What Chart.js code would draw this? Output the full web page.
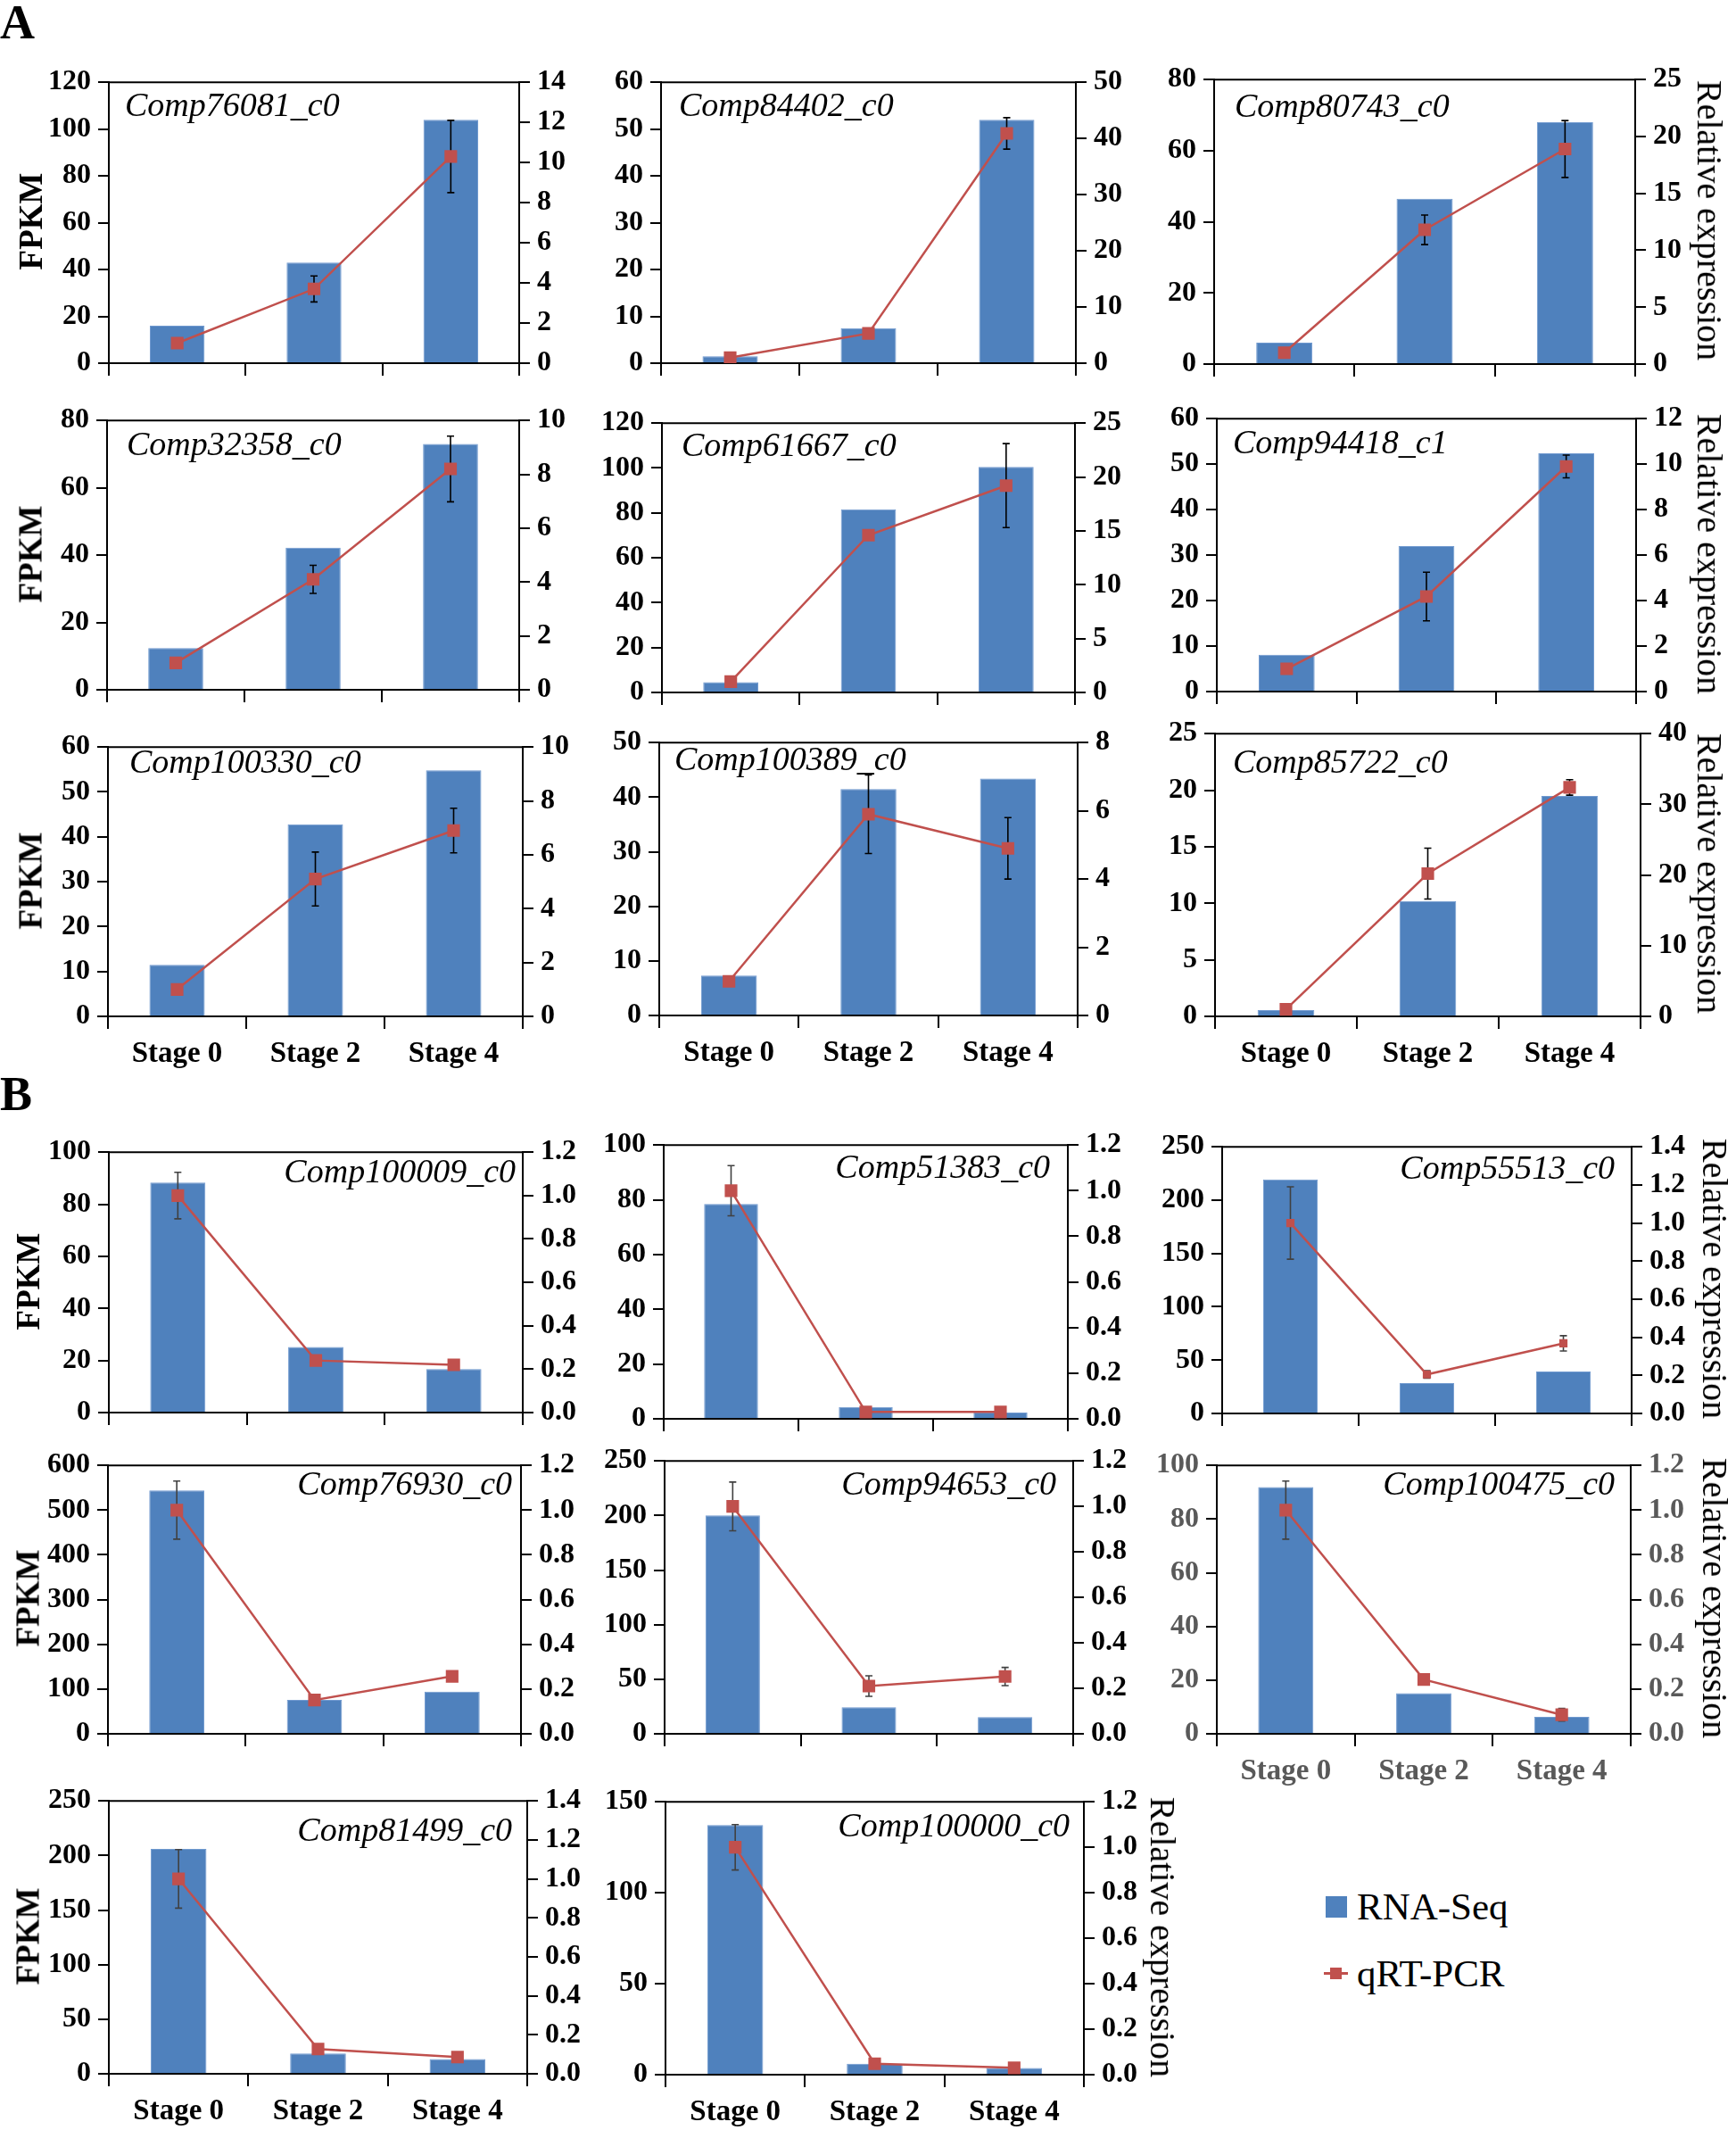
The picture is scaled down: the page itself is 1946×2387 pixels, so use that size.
<!DOCTYPE html>
<html>
<head>
<meta charset="utf-8">
<script src="https://cdn.jsdelivr.net/npm/chart.js@4.4.1/dist/chart.umd.min.js"></script>
<style>
  body { margin: 0; background: #fff; }
  #page { position: relative; width: 1946px; height: 2387px; overflow: hidden; background: #fff;
          font-family: "Liberation Serif", "Times New Roman", serif; }
  canvas { position: absolute; }
  .txt { position: absolute; white-space: nowrap; line-height: 1; color: #000; }
</style>
</head>
<body>
<div id="page"></div>
<script>
// ---- data ----
const stages = ['Stage 0', 'Stage 2', 'Stage 4'];
const genes = ['Comp76081_c0', 'Comp84402_c0', 'Comp80743_c0', 'Comp32358_c0', 'Comp61667_c0',
  'Comp94418_c1', 'Comp100330_c0', 'Comp100389_c0', 'Comp85722_c0', 'Comp100009_c0',
  'Comp51383_c0', 'Comp55513_c0', 'Comp76930_c0', 'Comp94653_c0', 'Comp100475_c0',
  'Comp81499_c0', 'Comp100000_c0'];

// RNA-Seq (FPKM, left axis)
const fpkm = [
  [16, 43, 104], [1.5, 7.5, 52], [6, 46.5, 68],
  [12.4, 42.2, 73], [4.6, 81.6, 100.5], [8.1, 32, 52.4],
  [11.5, 42.8, 54.8], [7.3, 41.5, 43.4], [0.55, 10.2, 19.5],
  [88.3, 25.2, 16.7], [78.5, 4.3, 2.3], [219.4, 28.4, 39.4],
  [544, 75.6, 94], [200, 24.3, 15.4], [91.9, 15.1, 6.3],
  [206, 18.6, 13.5], [137.2, 6, 3.7]
];
// qRT-PCR (relative expression, right axis) and its error bars
const qpcr = [
  [1.0, 3.7, 10.3], [1.0, 5.3, 40.9], [1.0, 11.8, 18.9],
  [1.0, 4.1, 8.2], [1.0, 14.6, 19.2], [1.0, 4.18, 9.9],
  [1.0, 5.1, 6.9], [1.0, 5.9, 4.9], [1.0, 20.2, 32.4],
  [1.0, 0.24, 0.22], [1.0, 0.03, 0.03], [1.0, 0.205, 0.368],
  [1.0, 0.151, 0.257], [1.0, 0.21, 0.252], [1.0, 0.243, 0.085],
  [1.0, 0.127, 0.086], [1.0, 0.048, 0.03]
];
const qpcrErr = [
  [0.1, 0.65, 1.8], [0.3, 0.5, 2.8], [0.2, 1.3, 2.5],
  [0.1, 0.52, 1.22], [0.2, 0.3, 3.9], [0.1, 1.07, 0.5],
  [0.2, 1.0, 0.83], [0.1, 1.15, 0.9], [0.3, 3.6, 1.1],
  [0.107, 0.01, 0.01], [0.11, 0.01, 0.01], [0.19, 0.02, 0.04],
  [0.13, 0.02, 0.01], [0.107, 0.045, 0.04], [0.13, 0.01, 0.028],
  [0.15, 0.01, 0.01], [0.1, 0.01, 0.01]
];
// axis ranges
const fpkmMax  = [120, 60, 80, 80, 120, 60, 60, 50, 25, 100, 100, 250, 600, 250, 100, 250, 150];
const fpkmStep = [20, 10, 20, 20, 20, 10, 10, 10, 5, 20, 20, 50, 100, 50, 20, 50, 50];
const relMax   = [14, 50, 25, 10, 25, 12, 10, 8, 40, 1.2, 1.2, 1.4, 1.2, 1.2, 1.2, 1.4, 1.2];
const relStep  = [2, 10, 5, 2, 5, 2, 2, 2, 10, 0.2, 0.2, 0.2, 0.2, 0.2, 0.2, 0.2, 0.2];

// ---- layout (plot area boxes [l, t, r, b] and title anchor) ----
const layout = [
  { box: [122, 89, 582, 407],    title: [140, 117] },
  { box: [741, 89, 1206, 407],   title: [761, 117] },
  { box: [1361, 86, 1833, 408],  title: [1384, 118] },
  { box: [120, 468, 582, 773],   title: [142, 497] },
  { box: [742, 471, 1205, 776],  title: [764, 498] },
  { box: [1364, 466, 1834, 775], title: [1382, 495] },
  { box: [121, 834, 586, 1139],  title: [145, 853] },
  { box: [739, 829, 1208, 1138], title: [756, 850] },
  { box: [1362, 819, 1839, 1139], title: [1382, 853] },
  { box: [122, 1288, 586, 1583], title: [578, 1312] },
  { box: [744, 1280, 1197, 1590], title: [1177, 1307] },
  { box: [1370, 1282, 1829, 1584], title: [1810, 1308], marker: 6.5 },
  { box: [121, 1639, 584, 1943], title: [574, 1662] },
  { box: [745, 1634, 1203, 1943], title: [1184, 1662] },
  { box: [1364, 1639, 1828, 1943], title: [1810, 1662], muted: true },
  { box: [122, 2015, 591, 2324], title: [574, 2050] },
  { box: [746, 2016, 1215, 2325], title: [1199, 2045] }
];
const fpkmTitleAt = [0, 3, 6, 9, 12, 15];
const relTitleAt = [2, 5, 8, 11, 14, 16];
const xLabelsAt = [6, 7, 8, 14, 15, 16];

const BLUE = '#4F81BD';
const RED = '#C0504D';
const FONT = '"Liberation Serif", "Times New Roman", serif';
const LEFT_W = 110, RIGHT_W = 100, TOP_PAD = 24, BOTTOM_H = 90;

const page = document.getElementById('page');

function addText(str, x, y, css) {
  const d = document.createElement('div');
  d.className = 'txt';
  d.textContent = str;
  d.style.left = x + 'px';
  d.style.top = y + 'px';
  Object.assign(d.style, css);
  page.appendChild(d);
  return d;
}

// top border of each plot box
const frameTop = {
  id: 'frameTop',
  afterDraw(chart) {
    const { ctx, chartArea: a } = chart;
    ctx.save();
    ctx.strokeStyle = '#000';
    ctx.lineWidth = 2;
    ctx.beginPath();
    ctx.moveTo(a.left, a.top);
    ctx.lineTo(a.right, a.top);
    ctx.stroke();
    ctx.restore();
  }
};

// error bars of the qRT-PCR series, drawn after the bars and under the line
const errorBars = {
  id: 'errorBars',
  afterDatasetDraw(chart, args, opts) {
    if (args.meta.type !== 'bar') return;
    const ds = chart.data.datasets[0];
    const meta = chart.getDatasetMeta(0);
    const y1 = chart.scales.y1;
    const ctx = chart.ctx;
    ctx.save();
    ctx.strokeStyle = opts.color;
    ctx.lineWidth = 1.6;
    meta.data.forEach((pt, k) => {
      const v = ds.data[k], e = ds.errors[k];
      const yt = y1.getPixelForValue(v + e), yb = y1.getPixelForValue(v - e);
      ctx.beginPath();
      ctx.moveTo(pt.x, yt); ctx.lineTo(pt.x, yb);
      ctx.moveTo(pt.x - 4, yt); ctx.lineTo(pt.x + 4, yt);
      ctx.moveTo(pt.x - 4, yb); ctx.lineTo(pt.x + 4, yb);
      ctx.stroke();
    });
    ctx.restore();
  }
};

genes.forEach((gene, i) => {
  const L = layout[i];
  const [l, t, r, b] = L.box;
  const panelB = i >= 9;
  const labelColor = L.muted ? '#595959' : '#000';

  const canvas = document.createElement('canvas');
  canvas.width = r - l + LEFT_W + RIGHT_W;
  canvas.height = b - t + TOP_PAD + BOTTOM_H;
  canvas.style.left = (l - LEFT_W) + 'px';
  canvas.style.top = (t - TOP_PAD) + 'px';
  page.appendChild(canvas);

  const tickFont = { family: FONT, size: 32, weight: 'bold' };
  const axisGrid = { drawOnChartArea: false, drawTicks: true, tickLength: 12, color: '#000', lineWidth: 2, tickWidth: 2, tickColor: '#000' };

  new Chart(canvas, {
    type: 'bar',
    data: {
      labels: stages,
      datasets: [
        {
          type: 'line', label: 'qRT-PCR', data: qpcr[i], errors: qpcrErr[i], yAxisID: 'y1', order: 1,
          borderColor: RED, backgroundColor: RED, borderWidth: 2.5, tension: 0,
          pointStyle: 'rect', pointRadius: L.marker || 10, pointBackgroundColor: RED,
          pointBorderColor: RED, pointBorderWidth: 0
        },
        {
          type: 'bar', label: 'RNA-Seq', data: fpkm[i], yAxisID: 'y', order: 2,
          backgroundColor: BLUE, borderColor: '#7099CF', borderWidth: 1,
          categoryPercentage: 1, barPercentage: 0.4
        }
      ]
    },
    options: {
      responsive: false,
      animation: false,
      events: [],
      layout: { padding: { top: TOP_PAD, left: 0, right: 0, bottom: 0 } },
      plugins: {
        legend: { display: false },
        tooltip: { enabled: false },
        errorBars: { color: panelB ? '#404040' : '#000' }
      },
      scales: {
        x: {
          offset: true,
          grid: { offset: true, drawOnChartArea: false, drawTicks: true, tickLength: 14, color: '#000', lineWidth: 2 },
          border: { display: true, color: '#000', width: 2 },
          ticks: {
            display: xLabelsAt.includes(i), color: labelColor, padding: 9, maxRotation: 0,
            font: { family: FONT, size: 33, weight: 'bold' }
          },
          afterFit: s => { s.height = BOTTOM_H; }
        },
        y: {
          position: 'left', min: 0, max: fpkmMax[i],
          grid: axisGrid,
          border: { display: true, color: '#000', width: 2 },
          ticks: { stepSize: fpkmStep[i], autoSkip: false, padding: 8, color: labelColor, font: tickFont, callback: v => String(v) },
          afterFit: s => { s.width = LEFT_W; }
        },
        y1: {
          position: 'right', min: 0, max: relMax[i],
          grid: axisGrid,
          border: { display: true, color: '#000', width: 2 },
          ticks: {
            stepSize: relStep[i], autoSkip: false, padding: 8, color: labelColor, font: tickFont,
            callback: v => panelB ? Number(v).toFixed(1) : String(Math.round(v))
          },
          afterFit: s => { s.width = RIGHT_W; }
        }
      }
    },
    plugins: [frameTop, errorBars]
  });

  // gene name
  const title = addText(gene, L.title[0], L.title[1], { fontStyle: 'italic', fontSize: '38px' });
  title.style.transform = panelB ? 'translate(-100%, -50%)' : 'translate(0, -50%)';

  const cy = (t + b) / 2;
  if (fpkmTitleAt.includes(i)) {
    const d = addText('FPKM', panelB ? 31 : 34, cy, { fontWeight: 'bold', fontSize: '37px' });
    d.style.transform = 'translate(-50%, -50%) rotate(-90deg)';
  }
  if (relTitleAt.includes(i)) {
    const x = i === 16 ? 1303 : (panelB ? 1922 : 1916);
    const d = addText('Relative expression', x, cy, { fontSize: '40px' });
    d.style.transform = 'translate(-50%, -50%) rotate(90deg)';
  }
});

// panel letters
addText('A', 0, -2, { fontWeight: 'bold', fontSize: '54px' });
addText('B', 0, 1199, { fontWeight: 'bold', fontSize: '54px' });

// legend
const sq = document.createElement('div');
Object.assign(sq.style, { position: 'absolute', left: '1486px', top: '2125px', width: '24px', height: '24px', background: BLUE });
page.appendChild(sq);
addText('RNA-Seq', 1521, 2136, { fontSize: '43px', transform: 'translate(0, -50%)' });
const ln = document.createElement('div');
Object.assign(ln.style, { position: 'absolute', left: '1484px', top: '2210px', width: '27px', height: '3px', background: RED });
page.appendChild(ln);
const mk = document.createElement('div');
Object.assign(mk.style, { position: 'absolute', left: '1491px', top: '2205px', width: '13px', height: '13px', background: RED });
page.appendChild(mk);
addText('qRT-PCR', 1521, 2211, { fontSize: '43px', transform: 'translate(0, -50%)' });
</script>
</body>
</html>
